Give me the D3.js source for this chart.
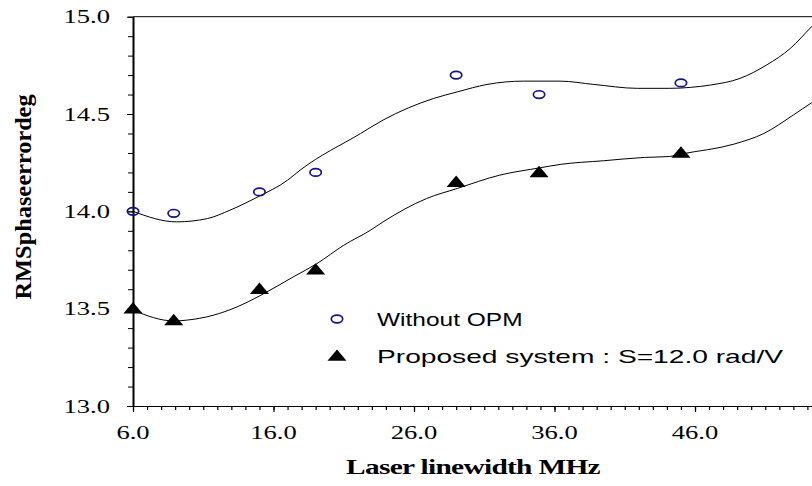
<!DOCTYPE html>
<html>
<head>
<meta charset="utf-8">
<script src="https://cdn.jsdelivr.net/npm/d3@7"></script>
<style>
  body { margin: 0; background: #fff; }
</style>
</head>
<body>
<div id="chart"></div>
<script>
// measured points (laser linewidth MHz, RMS phase error deg)
var pointX = [6, 8.9, 15, 19, 29, 34.9, 45];
var withoutOPM = [14.0, 13.99, 14.10, 14.20, 14.70, 14.60, 14.66];
var proposed = [13.5, 13.44, 13.6, 13.7, 14.15, 14.2, 14.3];

// fitted curves
var upperFitX = [6, 9.1, 11.3, 12.9, 14.9, 17.0, 17.9, 22.2, 23.8, 27.4, 29.1, 31.2, 33.8, 36.4, 38.8, 41.9, 44.2, 45.7, 47.1, 49.2, 51.1, 52.8, 54.3, 55.0];
var upperFitY = [14.00, 13.946, 13.963, 14.006, 14.075, 14.160, 14.212, 14.40, 14.469, 14.58, 14.614, 14.652, 14.669, 14.669, 14.652, 14.632, 14.632, 14.637, 14.649, 14.683, 14.752, 14.838, 14.949, 15.0];
var lowerFitX = [6, 8.9, 9.8, 11.7, 13.4, 15.1, 17.4, 19.1, 21.0, 22.9, 23.8, 26.9, 29.1, 32.1, 35.0, 36.4, 39.5, 42.4, 44.2, 45.0, 48.8, 50.9, 53.0, 54.3, 55.0];
var lowerFitY = [13.492, 13.437, 13.441, 13.466, 13.509, 13.569, 13.663, 13.732, 13.826, 13.903, 13.946, 14.066, 14.118, 14.186, 14.224, 14.241, 14.260, 14.277, 14.282, 14.294, 14.346, 14.40, 14.495, 14.558, 14.59];

var xTickVals = [6, 16, 26, 36, 46];
var yTickVals = [13.0, 13.5, 14.0, 14.5, 15.0];
var legendLabels = ["Without OPM", "Proposed system : S=12.0 rad/V"];

var width = 812, height = 486;
var stretch = 1.4; // the original picture is stretched sideways

var svg = d3.select("#chart").append("svg")
  .attr("width", width)
  .attr("height", height)
  .style("display", "block");

svg.append("rect").attr("width", width).attr("height", height).attr("fill", "#fff");

var x = d3.scaleLinear().domain([6, 56]).range([133, 133 + 50 * 14.05]);
var y = d3.scaleLinear().domain([13, 15]).range([406, 16.7]);

// top frame line
svg.append("line")
  .attr("x1", x(6)).attr("x2", width)
  .attr("y1", y(15)).attr("y2", y(15))
  .attr("stroke", "#000").attr("stroke-width", 1);

// x axis, minor then major ticks
var gx = svg.append("g").attr("transform", "translate(0," + y(13) + ")");
gx.append("g")
  .call(d3.axisBottom(x).tickValues(d3.range(6, 57, 1)).tickSize(4).tickSizeOuter(0).tickFormat(""));
gx.append("g")
  .call(d3.axisBottom(x).tickValues(xTickVals).tickSize(6).tickSizeOuter(0).tickFormat(""));
gx.selectAll("path.domain").attr("stroke", "#000").attr("stroke-width", 1.2);
gx.selectAll(".tick line").attr("stroke", "#000").attr("stroke-width", 1.2);

// y axis
var gy = svg.append("g").attr("transform", "translate(" + x(6) + ",0)");
gy.append("g")
  .call(d3.axisLeft(y).tickValues(d3.range(130, 151, 1).map(function(d) { return d / 10; })).tickSize(5).tickSizeOuter(0).tickFormat(""));
gy.append("g")
  .call(d3.axisLeft(y).tickValues(yTickVals).tickSize(6).tickSizeOuter(0).tickFormat(""));
gy.selectAll("path.domain").attr("stroke", "#000").attr("stroke-width", 1.6);
gy.selectAll(".tick line").attr("stroke", "#000").attr("stroke-width", 1);

// tick labels (drawn by hand so they can be stretched like the source)
svg.selectAll("text.ylab")
  .data(yTickVals)
  .enter().append("text")
  .attr("class", "ylab")
  .attr("text-anchor", "end")
  .attr("transform", function(d) { return "translate(110," + (y(d) + 6.5) + ") scale(" + stretch + ",1)"; })
  .style("font-family", "'Liberation Serif', 'Times New Roman', serif")
  .style("font-size", "19px")
  .text(function(d) { return d.toFixed(1); });

svg.selectAll("text.xlab")
  .data(xTickVals)
  .enter().append("text")
  .attr("class", "xlab")
  .attr("text-anchor", "middle")
  .attr("transform", function(d) { return "translate(" + x(d) + ",439) scale(" + stretch + ",1)"; })
  .style("font-family", "'Liberation Serif', 'Times New Roman', serif")
  .style("font-size", "19px")
  .text(function(d) { return d.toFixed(1); });

// axis titles
svg.append("text")
  .attr("text-anchor", "middle")
  .attr("transform", "translate(473,474) scale(" + stretch + ",1)")
  .style("font-family", "'Liberation Serif', 'Times New Roman', serif")
  .style("font-weight", "bold")
  .style("font-size", "21px")
  .style("letter-spacing", "-0.5px")
  .text("Laser linewidth MHz");

svg.append("text")
  .attr("text-anchor", "middle")
  .attr("dominant-baseline", "central")
  .attr("transform", "translate(23,197) rotate(-90) scale(1,1.3)")
  .attr("textLength", 205)
  .attr("lengthAdjust", "spacingAndGlyphs")
  .style("font-family", "'Liberation Serif', 'Times New Roman', serif")
  .style("font-weight", "bold")
  .style("font-size", "17px")
  .style("word-spacing", "-4px")
  .text("RMS phase error deg");

// fitted curves
var line = d3.line()
  .x(function(d) { return x(d[0]); })
  .y(function(d) { return y(d[1]); })
  .curve(d3.curveMonotoneX);

svg.append("path")
  .datum(d3.zip(upperFitX, upperFitY))
  .attr("fill", "none").attr("stroke", "#000").attr("stroke-width", 1)
  .attr("d", line);

svg.append("path")
  .datum(d3.zip(lowerFitX, lowerFitY))
  .attr("fill", "none").attr("stroke", "#000").attr("stroke-width", 1)
  .attr("d", line);

// markers
var navy = "#12128c";
function drawCircle(g, cx, cy) {
  g.append("ellipse")
    .attr("cx", cx).attr("cy", cy)
    .attr("rx", 5.7).attr("ry", 3.8)
    .attr("fill", "none").attr("stroke", navy).attr("stroke-width", 1.7);
}
var tri = d3.symbol().type(d3.symbolTriangle).size(75);
function drawTriangle(g, cx, cy) {
  g.append("path")
    .attr("d", tri())
    .attr("transform", "translate(" + cx + "," + (cy + 1) + ") scale(" + 1.45 + ",1)")
    .attr("fill", "#000");
}

var marks = svg.append("g");
pointX.forEach(function(d, i) {
  drawCircle(marks, x(d), y(withoutOPM[i]));
  drawTriangle(marks, x(d), y(proposed[i]));
});

// legend
var legend = svg.append("g");
drawCircle(legend, 337, 319);
drawTriangle(legend, 337, 356);
var legendWidths = [104, 290]; // in unstretched units
legend.selectAll("text")
  .data(legendLabels)
  .enter().append("text")
  .attr("transform", function(d, i) { return "translate(377," + (325.5 + i * 37) + ") scale(" + stretch + ",1)"; })
  .attr("textLength", function(d, i) { return legendWidths[i]; })
  .attr("lengthAdjust", "spacingAndGlyphs")
  .style("font-family", "'Liberation Sans', Arial, sans-serif")
  .style("font-size", "18px")
  .text(function(d) { return d; });
</script>
</body>
</html>
